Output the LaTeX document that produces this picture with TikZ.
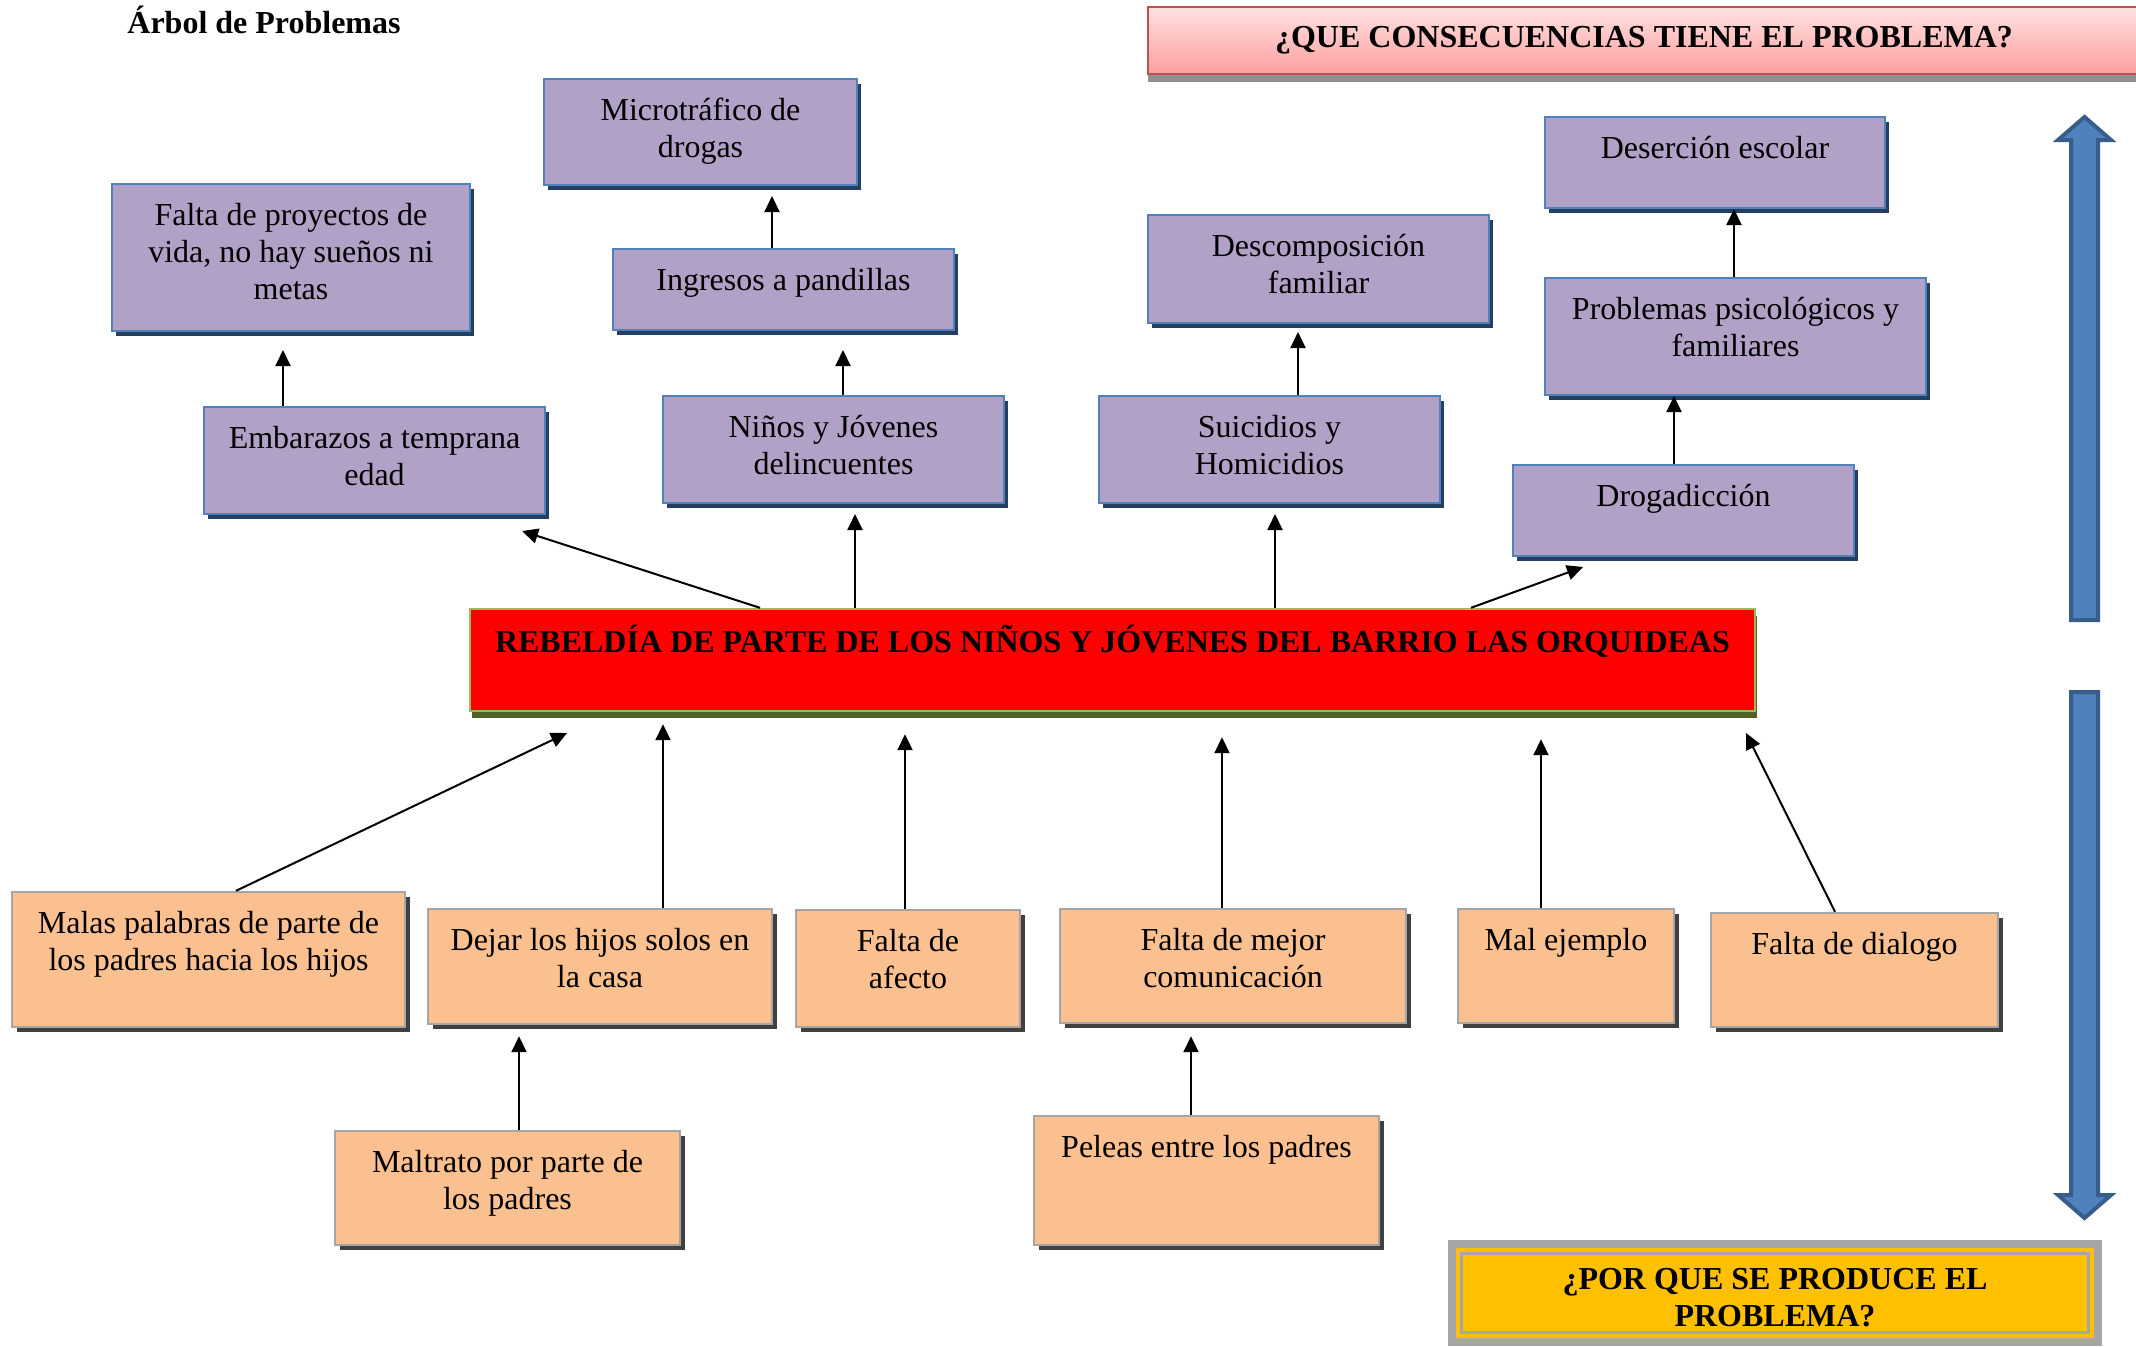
\documentclass[tikz,border=0pt]{standalone}
\usepackage{fontspec}
\setmainfont{Liberation Serif}
\usetikzlibrary{shadows,arrows.meta,calc}
\definecolor{purp}{HTML}{B2A1C7}
\definecolor{pborder}{HTML}{4F81BD}
\definecolor{pshadow}{HTML}{243F60}
\definecolor{orng}{HTML}{FAC090}
\definecolor{oborder}{HTML}{A5A5A5}
\definecolor{oshadow}{HTML}{404040}
\definecolor{rborder}{HTML}{9BBB59}
\definecolor{rshadow}{HTML}{4F6228}
\definecolor{pinkT}{HTML}{FFE2E2}
\definecolor{pinkB}{HTML}{FF9E9E}
\definecolor{bannerborder}{HTML}{C0504D}
\definecolor{yel}{HTML}{FFC000}
\definecolor{grayf}{HTML}{A6A6A6}
\definecolor{strip}{HTML}{8F8F8F}
\definecolor{blueA}{HTML}{4F81BD}
\definecolor{blueB}{HTML}{385D8A}
\newcommand\bodyfont{\fontsize{16pt}{18.4pt}\selectfont}
\newcommand\mybox[7]{%
  \pgfmathsetmacro\mybw{(#5-#3)*0.5}%
  \pgfmathsetmacro\mybh{(#6-#4)*0.5}%
  \node[#2, inner sep=0pt, minimum width=\mybw pt, minimum height=\mybh pt] (#1)
    at ({(#3+#5)/2},{(#4+#6)/2})
    {\parbox[c][\mybh pt][t]{\mybw pt}{\centering\vspace*{7.9pt}\strut #7\par}};%
}
\tikzset{
  x=0.5pt, y=-0.5pt,
  every node/.append style={font=\bodyfont},
  pbox/.style={fill=purp, draw=pborder, line width=1pt,
    drop shadow={shadow xshift=2pt, shadow yshift=-2.5pt, fill=pshadow, opacity=1}},
  obox/.style={fill=orng, draw=oborder, line width=1.2pt,
    drop shadow={shadow xshift=2.5pt, shadow yshift=-2.5pt, fill=oshadow, opacity=1}},
  rbox/.style={fill=red, draw=rborder, line width=1.2pt,
    drop shadow={shadow xshift=1pt, shadow yshift=-3.5pt, fill=rshadow, opacity=1}},
  arr/.style={-{Triangle[length=8pt,width=7.5pt]}, line width=1pt},
}
\begin{document}
\begin{tikzpicture}
\useasboundingbox (0,0) rectangle (2136,1346);
\fill[white] (0,0) rectangle (2136,1346);

% title
\node[font=\bodyfont\bfseries] (title) at (264,20) {Árbol de Problemas};

% top banner
\fill[strip] (1148,75) rectangle (2136,82);
\node[draw=bannerborder, line width=1pt, top color=pinkT, bottom color=pinkB,
  minimum width=496pt, minimum height=33.5pt, inner sep=0pt, font=\bodyfont\bfseries]
  (conseq) at (1644,40.5) {¿QUE CONSECUENCIAS TIENE EL PROBLEMA?};

% bottom banner
\fill[grayf] (1448,1240) rectangle (2102,1346);
\fill[yel] (1456,1248) rectangle (2094,1338);
\fill[grayf] (1460,1252) rectangle (2090,1334);
\fill[yel] (1463,1255) rectangle (2087,1331);
\node[align=center, font=\bodyfont\bfseries] (why) at (1775,1298)
  {¿POR QUE SE PRODUCE EL\\PROBLEMA?};

% blue arrows
\draw[line width=2pt, draw=blueB, fill=blueA, line join=miter]
  (2071,620) -- (2071,140) -- (2058,140) -- (2084.5,117) -- (2111,140) -- (2098,140) -- (2098,620) -- cycle;
\draw[line width=2pt, draw=blueB, fill=blueA, line join=miter]
  (2071,692) -- (2071,1195) -- (2058,1195) -- (2084.5,1218) -- (2111,1195) -- (2098,1195) -- (2098,692) -- cycle;

% consequence boxes
\mybox{falta}{pbox}{112}{184}{470}{331}{Falta de proyectos de\\vida, no hay sueños ni\\metas}
\mybox{micro}{pbox}{544}{79}{857}{185}{Microtráfico de\\drogas}
\mybox{ing}{pbox}{613}{249}{954}{330}{Ingresos a pandillas}
\mybox{emb}{pbox}{204}{407}{545}{514}{Embarazos a temprana\\edad}
\mybox{nin}{pbox}{663}{396}{1004}{503}{Niños y Jóvenes\\delincuentes}
\mybox{desc}{pbox}{1148}{215}{1489}{323}{Descomposición\\familiar}
\mybox{sui}{pbox}{1099}{396}{1440}{503}{Suicidios y\\Homicidios}
\mybox{deser}{pbox}{1545}{117}{1885}{208}{Deserción escolar}
\mybox{psico}{pbox}{1545}{278}{1926}{395}{Problemas psicológicos y\\familiares}
\mybox{drog}{pbox}{1513}{465}{1854}{556}{Drogadicción}

% central problem
\mybox{prob}{rbox}{470}{609}{1755}{711}{\bfseries REBELDÍA DE PARTE DE LOS NIÑOS Y JÓVENES DEL BARRIO LAS ORQUIDEAS}

% cause boxes
\mybox{malas}{obox}{12}{892}{405}{1027}{Malas palabras de parte de\\los padres hacia los hijos}
\mybox{dejar}{obox}{428}{909}{772}{1024}{Dejar los hijos solos en\\la casa}
\mybox{afecto}{obox}{796}{910}{1020}{1027}{Falta de\\afecto}
\mybox{mejor}{obox}{1060}{909}{1406}{1023}{Falta de mejor\\comunicación}
\mybox{mal}{obox}{1458}{909}{1674}{1023}{Mal ejemplo}
\mybox{dialogo}{obox}{1711}{913}{1998}{1027}{Falta de dialogo}
\mybox{maltrato}{obox}{335}{1131}{680}{1245}{Maltrato por parte de\\los padres}
\mybox{peleas}{obox}{1034}{1116}{1379}{1245}{Peleas entre los padres}

% free arrow ends
\coordinate (eEmb) at (522,531);
\coordinate (eDrog) at (1583,567);
\coordinate (eMalas) at (567,733);
\coordinate (eDial) at (1746,733);

% upper arrows
\draw[arr, shorten >=9pt] (emb.north -| 283,0) -- (falta.south -| 283,0);
\draw[arr, shorten >=9.5pt] (nin.north -| 843,0) -- (ing.south -| 843,0);
\draw[arr, shorten >=5pt] (ing.north -| 772,0) -- (micro.south -| 772,0);
\draw[arr, shorten >=4pt] (sui.north -| 1298,0) -- (desc.south -| 1298,0);
\draw[arr] (psico.north -| 1734,0) -- (deser.south -| 1734,0);
\draw[arr] (drog.north -| 1674,0) -- (psico.south -| 1674,0);
\draw[arr] (prob.north -| 760,0) -- (eEmb);
\draw[arr, shorten >=5pt] (prob.north -| 855,0) -- (nin.south -| 855,0);
\draw[arr, shorten >=5pt] (prob.north -| 1275,0) -- (sui.south -| 1275,0);
\draw[arr] (prob.north -| 1471,0) -- (eDrog);

% lower arrows
\draw[arr] (malas.north -| 236,0) -- (eMalas);
\draw[arr, shorten >=6pt] (dejar.north -| 663,0) -- (prob.south -| 663,0);
\draw[arr, shorten >=11pt] (afecto.north -| 905,0) -- (prob.south -| 905,0);
\draw[arr, shorten >=12.5pt] (mejor.north -| 1222,0) -- (prob.south -| 1222,0);
\draw[arr, shorten >=13.5pt] (mal.north -| 1541,0) -- (prob.south -| 1541,0);
\draw[arr] (dialogo.north -| 1835,0) -- (eDial);
\draw[arr, shorten >=5.5pt] (maltrato.north -| 519,0) -- (dejar.south -| 519,0);
\draw[arr, shorten >=6pt] (peleas.north -| 1191,0) -- (mejor.south -| 1191,0);
\end{tikzpicture}
\end{document}
